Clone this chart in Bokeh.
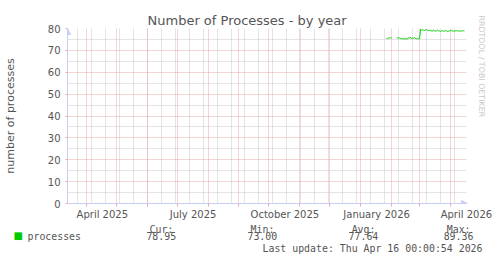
from datetime import datetime, timedelta
import numpy as np
from bokeh.plotting import figure
from bokeh.models import (FixedTicker, Arrow, NormalHead, Range1d, ColumnDataSource, Title)
from bokeh.embed import file_html
from bokeh.resources import INLINE

# ---------------- data ----------------
TITLE = "Number of Processes - by year"
Y_LABEL = "number of processes"
SERIES_NAME = "processes"
SERIES_START = "2026-01-27"   # first daily sample
values = [
    75.4, 75.4, 75.7, 75.7, 75.7,                       # Jan 27-31
    75.7,                                               # Feb 1
    np.nan, np.nan, np.nan, np.nan,                     # Feb 2-5 (no data)
    75.7, 75.7, 75.8, 75.6, 75.4, 75.4, 75.3, 75.3, 75.3, 75.2, 75.3, 75.3,
    75.7, 75.7, 75.8, 75.6, 75.6, 75.5, 75.9, 75.4, 75.3, 75.4, 75.3,   # Feb 6-28
    75.3,                                               # Mar 1
    79.6, 79.4, 79.4, 79.2, 79.1, 79.3, 79.5, 79.1, 79.0, 79.1, 79.0, 78.9,
    78.9, 79.2, 79.0, 78.8, 78.9, 79.3, 78.9, 78.9, 78.7, 78.9, 79.0, 78.8,
    78.7, 79.2, 78.9, 78.6, 78.7, 79.0,                 # Mar 2-31
    78.9, 79.2, 78.9, 78.8, 78.9, 78.9, 79.0, 78.9, 78.9, 78.9, 78.8, 78.9,
    78.9, 79.0, 78.95,                                  # Apr 1-15
]
stat_names = ["Cur:", "Min:", "Avg:", "Max:"]
stat_values = ["78.95", "73.00", "77.64", "89.36"]
LAST_UPDATE = "Last update: Thu Apr 16 00:00:54 2026"
WATERMARK = "RRDTOOL / TOBI OETIKER"

x_tick_months = [(2025, 4), (2025, 7), (2025, 10), (2026, 1), (2026, 4)]
x_tick_labels = ["April 2025", "July 2025", "October 2025", "January 2026", "April 2026"]
y_ticks = [0, 10, 20, 30, 40, 50, 60, 70, 80]
y_minor = [5, 15, 25, 35, 45, 55, 65, 75]

X_START = datetime(2025, 3, 13, 2)
X_END = datetime(2026, 4, 17, 2)

# ---------------- helpers ----------------
EPOCH = datetime(1970, 1, 1)
def ms(d):
    return (d - EPOCH).total_seconds() * 1000.0

start = datetime.strptime(SERIES_START, "%Y-%m-%d")
dates = [ms(start + timedelta(days=i)) for i in range(len(values))]

month_starts = []
y, m = 2025, 4
while (y, m) <= (2026, 4):
    month_starts.append(ms(datetime(y, m, 1)))
    m += 1
    if m > 12:
        m, y = 1, y + 1
biweekly = [ms(datetime(2025, 3, 23) + timedelta(days=14 * k)) for k in range(30)]
biweekly = [b for b in biweekly if b <= ms(X_END)]
label_ticks = [int(ms(datetime(yy, mm, 17))) for yy, mm in x_tick_months]

FONT = "DejaVu Sans"
MONO = "DejaVu Sans Mono"
TXT = "#555555"
MGRID = "#e8a8a8"
GRID = "#c8c8c8"
AXIS = "#c8cff4"
GREEN = "#00CC00"

W, H = 497, 264
FL, FR, FT, FB = 66, 466, 28, 203     # plot frame in canvas pixels

p = figure(width=W, height=H, x_axis_type="datetime", output_backend="svg",
           toolbar_location=None,
           x_range=Range1d(ms(X_START), ms(X_END)), y_range=Range1d(0, 80),
           min_border_left=FL, min_border_right=W - FR, min_border_top=FT,
           min_border_bottom=H - FB)
p.background_fill_color = "white"
p.border_fill_color = "white"
p.outline_line_color = None

p.title = Title(text=TITLE, align="left", offset=80, standoff=2,
                text_font=FONT, text_font_size="13px", text_font_style="normal",
                text_color=TXT)
p.add_layout(Title(text=WATERMARK, align="left", offset=-13, standoff=20,
                   text_font=FONT, text_font_size="7.9px", text_font_style="normal",
                   text_color="#c8c8c8"), "right")

# grids
p.xgrid.ticker = FixedTicker(ticks=month_starts, minor_ticks=biweekly)
p.ygrid.ticker = FixedTicker(ticks=y_ticks[1:], minor_ticks=y_minor)
for g in (p.xgrid, p.ygrid):
    g.grid_line_color = MGRID
    g.grid_line_dash = "1 1"
    g.grid_line_width = 1
    g.minor_grid_line_color = GRID
    g.minor_grid_line_dash = "1 1"
    g.minor_grid_line_width = 1

# x axis
xa = p.xaxis[0]
xa.ticker = FixedTicker(ticks=label_ticks, minor_ticks=month_starts)
xa.major_label_overrides = {t: s for t, s in zip(label_ticks, x_tick_labels)}
xa.major_tick_line_color = None
xa.minor_tick_line_color = MGRID
xa.minor_tick_out = 3
xa.minor_tick_in = 0
xa.axis_line_color = AXIS
xa.major_label_standoff = -1
xa.major_label_text_font = FONT
xa.major_label_text_font_size = "10px"
xa.major_label_text_color = TXT

# y axis
ya = p.yaxis[0]
ya.ticker = FixedTicker(ticks=y_ticks)
ya.major_tick_line_color = MGRID
ya.major_tick_out = 2
ya.major_tick_in = 0
ya.minor_tick_line_color = None
ya.axis_line_color = AXIS
ya.major_label_standoff = 5
ya.major_label_text_font = FONT
ya.major_label_text_font_size = "10px"
ya.major_label_text_color = TXT
ya.axis_label = Y_LABEL
ya.axis_label_text_font = FONT
ya.axis_label_text_font_size = "11px"
ya.axis_label_text_font_style = "normal"
ya.axis_label_text_color = TXT
ya.axis_label_standoff = 28

# data line
src = ColumnDataSource(dict(x=dates, y=values))
p.line("x", "y", source=src, line_color=GREEN, line_width=1)

# arrow heads at the axis ends (inside the frame corners)
p.add_layout(Arrow(x_start=0, y_start=FB - FT - 8, x_end=0, y_end=FB - FT,
                   start_units="screen", end_units="screen",
                   line_color=AXIS, line_width=1,
                   end=NormalHead(size=6, fill_color=AXIS, line_color=AXIS)))
p.add_layout(Arrow(x_start=FR - FL - 8, y_start=0, x_end=FR - FL, y_end=0,
                   start_units="screen", end_units="screen",
                   line_color=AXIS, line_width=1,
                   end=NormalHead(size=6, fill_color=AXIS, line_color=AXIS)))

# ---------------- legend rows (monospace, rrdtool style) ----------------
NBSP = "\u00a0"
CW = 0.602 * 9.9     # DejaVu Sans Mono advance at 9.9px

def row(start_x, items):
    s = ""
    for tx, t in items:
        n = int(round((tx - start_x) / CW))
        s = s + NBSP * max(n - len(s), 1 if s else 0) + t
    return s

col_x = [149, 248, 349, 447]
row1 = row(149, list(zip(col_x, stat_names)))
row2 = row(27, [(27, SERIES_NAME)] + list(zip(col_x, stat_values)))

def below_title(txt, x0, so, font=MONO, size="9.9px", color=TXT):
    p.add_layout(Title(text=txt, align="left", offset=x0 - FL - 1, standoff=so,
                       text_font=font, text_font_size=size, text_font_style="normal",
                       text_color=color), "below")

below_title(row1, 149, -1)
below_title("\u25a0", 13, -13, font=FONT, size="10px", color=GREEN)   # legend colour box
below_title(row2, 27, -12)
below_title(LAST_UPDATE, 262, 10)

open("out.html", "w").write(file_html(p, INLINE))
